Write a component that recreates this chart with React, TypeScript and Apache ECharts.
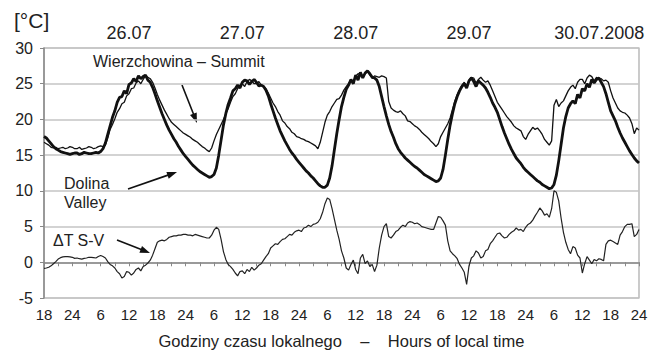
import React, { useEffect, useRef } from "react";
import * as echarts from "echarts";

// Half-hourly readings starting 25.07.2008 18:00 local time (x = index * 0.5 hours elapsed)
const valley = [
  17.6, 17.4, 17.0, 16.6, 16.2, 15.9, 15.7, 15.5, 15.4, 15.3, 15.2, 15.1, 15.2, 15.3, 15.3, 15.1, 15.2, 15.4, 15.3, 15.2,
  15.2, 15.3, 15.4, 15.3, 15.5, 15.9, 16.7, 17.9, 19.1, 20.3, 21.2, 22.4, 23.1, 23.2, 24.0, 23.6, 24.9, 25.1, 25.7, 25.3,
  26.1, 25.7, 26.0, 26.2, 25.5, 25.2, 24.5, 23.6, 22.6, 21.7, 20.8, 20.0, 19.2, 18.5, 17.9, 17.3, 16.8, 16.2, 15.7, 15.2,
  14.8, 14.4, 14.0, 13.6, 13.3, 13.0, 12.7, 12.5, 12.3, 12.1, 11.9, 12.0, 12.3, 13.2, 15.0, 17.1, 19.2, 20.8, 22.1, 23.0,
  24.0, 24.3, 24.8, 24.4, 25.2, 25.5, 25.4, 24.9, 25.3, 25.6, 25.2, 24.7, 24.8, 24.6, 24.1, 23.3, 22.2, 21.2, 20.2, 19.3,
  18.4, 17.7, 17.0, 16.4, 15.8, 15.3, 14.9, 14.4, 14.0, 13.6, 13.2, 12.8, 12.5, 12.1, 11.8, 11.4, 11.0, 10.7, 10.5, 10.5,
  10.8, 11.8, 13.5, 15.8, 18.0, 20.0, 21.8, 23.1, 24.2, 24.8, 25.6, 25.0, 26.2, 25.5, 26.6, 25.8, 26.5, 26.8, 26.4, 25.9,
  25.8, 25.5, 24.6, 23.2, 21.8, 20.5, 19.3, 18.3, 17.5, 16.6, 15.9, 15.4, 15.0, 14.6, 14.3, 14.0, 13.7, 13.4, 13.2, 12.9,
  12.6, 12.3, 12.1, 11.9, 11.7, 11.5, 11.3, 11.4, 11.8, 13.0, 15.0, 17.2, 19.2, 20.8, 22.2, 23.2, 24.0, 24.6, 25.0, 24.4,
  25.4, 25.8, 25.3, 24.6, 25.4, 25.1, 24.8, 24.4, 23.8, 23.1, 22.3, 21.7, 21.0, 20.0, 19.0, 18.1, 17.3, 16.5, 15.8, 15.2,
  14.6, 14.2, 13.8, 13.3, 12.9, 12.6, 12.3, 12.0, 11.7, 11.4, 11.2, 10.9, 10.7, 10.5, 10.3, 10.4, 10.9, 12.2, 14.2, 16.5,
  18.8, 20.4, 21.6, 22.2, 22.6, 22.2, 23.5, 23.0, 24.3, 24.0, 25.0, 24.5, 25.6, 25.1, 25.6, 25.8, 25.2, 24.6, 23.6, 22.4,
  21.2, 20.5, 19.8, 18.9, 18.1, 17.4, 16.8, 16.2, 15.6, 15.1, 14.6, 14.2, 13.9,
];

const summit = [
  16.8, 16.6, 16.4, 16.1, 16.0, 16.1, 15.9, 16.0, 16.1, 15.9, 16.0, 16.2, 16.1, 15.9, 15.9, 16.1, 15.8, 15.9, 16.0, 16.2,
  16.1, 15.9, 16.0, 16.2, 16.3, 16.2, 16.4, 17.4, 18.6, 19.3, 20.1, 21.0, 21.5, 22.2, 22.4, 23.3, 23.6, 24.3, 24.4, 25.1,
  25.4, 25.0, 25.6, 26.1, 25.9, 25.7, 25.2, 24.4, 23.5, 22.7, 22.0, 21.3, 20.7, 20.1, 19.6, 19.3, 19.0, 18.7, 18.4, 18.1,
  17.9, 17.7, 17.5, 17.2, 17.0, 16.8, 16.5, 16.2, 16.0, 15.7, 15.5, 16.0, 17.0, 17.9, 18.6, 19.3, 20.0, 20.8, 21.5, 22.4,
  23.2, 23.6, 24.3, 24.8, 25.0, 24.6, 25.3, 25.6, 25.4, 25.0, 25.0, 25.3, 24.8, 24.6, 24.3, 23.7, 23.0, 22.3, 21.8, 21.1,
  20.6, 19.8, 19.5, 19.0, 18.7, 18.2, 18.0, 17.6, 17.5, 17.3, 17.2, 17.0, 16.9, 16.7, 16.5, 16.3, 15.9, 16.8, 18.2, 19.6,
  20.6, 21.1, 21.8, 22.3, 22.8, 22.9, 23.4, 24.1, 24.6, 25.0, 25.5, 25.2, 26.0, 26.4, 26.3, 25.9, 26.4, 26.7, 26.2, 25.8,
  26.1, 26.0, 25.9, 26.1, 26.0, 25.8, 22.5, 21.6, 21.3, 21.1, 21.0, 21.2, 20.8, 20.5, 19.8, 19.7, 19.4, 19.1, 18.9, 18.6,
  18.2, 17.9, 17.6, 17.3, 16.9, 16.6, 16.2, 16.6, 17.6, 18.2, 18.8, 19.4, 20.2, 21.4, 22.6, 23.5, 24.2, 24.8, 25.2, 24.7,
  25.5, 25.9, 25.8, 25.1, 25.6, 25.9, 25.5, 25.2, 25.4, 24.8, 24.0, 23.2, 22.4, 21.9, 21.4, 20.9, 20.4, 20.0, 19.6, 19.1,
  18.8, 18.6, 18.4, 17.6, 17.2, 17.9, 18.4, 18.9, 18.6, 18.8, 18.4, 17.9, 17.2, 16.8, 16.4, 17.0, 22.0, 22.8, 21.8, 22.3,
  22.6, 23.3, 24.0, 24.5, 24.8, 24.3, 25.2, 25.6, 25.6, 25.0, 25.8, 26.2, 26.0, 25.4, 25.9, 25.6, 25.7, 25.4, 25.5, 25.2,
  24.0, 23.0, 22.3, 21.6, 21.2, 21.0, 20.9, 20.6, 20.2, 19.4, 18.0, 18.8, 18.5,
];

const deltaSV = [
  -0.85, -0.8, -0.7, -0.5, -0.2, 0.1, 0.45, 0.65, 0.75, 0.8, 0.8, 0.75, 0.7, 0.55, 0.6, 0.5, 0.45, 0.55, 0.6, 0.7,
  0.7, 0.65, 0.6, 0.8, 0.95, 0.8, 0.6, 0.1, -0.3, -0.5, -0.8, -1.3, -1.6, -2.2, -2.0, -1.3, -1.4, -1.8, -1.5, -1.0,
  -0.8, -1.2, -0.6, -0.4, -0.1, 0.3, 1.0, 1.9, 2.8, 3.0, 3.1, 3.0, 3.2, 3.5, 3.6, 3.7, 3.7, 3.8, 3.8, 3.9,
  3.9, 3.8, 3.8, 3.7, 3.9, 3.8, 3.7, 3.6, 3.5, 3.4, 3.4, 3.8, 4.5, 4.9, 4.6, 3.2, 1.5, 0.4, -0.3, -0.6,
  -1.0, -1.5, -1.9, -1.3, -1.2, -1.6, -1.0, -1.3, -0.7, -1.1, -0.8, -0.4, -0.2, 0.3, 0.8, 1.2, 2.0, 2.3, 2.6, 2.5,
  2.9, 3.2, 3.3, 3.6, 3.9, 3.8, 4.2, 4.4, 4.5, 4.3, 4.8, 4.9, 5.2, 5.0, 5.3, 5.4, 5.6, 6.1, 7.0, 8.2,
  9.0, 8.8, 7.5, 6.0, 4.5, 3.2, 1.6, 0.6, -0.8, -1.1, -0.3, 0.3, -1.0, -1.6, 0.6, 1.1, -0.2, 0.2, -0.6, -0.3,
  -1.3, -0.4, 2.0, 3.8, 5.0, 5.4, 3.6, 3.4, 3.8, 4.3, 4.5, 4.9, 5.2, 5.0, 5.5, 5.7, 5.6, 5.4, 5.5, 5.3,
  5.0, 4.9, 4.8, 4.7, 4.6, 4.6, 5.5, 6.4, 6.3, 5.8, 5.2, 3.0, 1.6, 1.2, 0.9, 0.5, -0.3, -0.8, -1.4, -3.1,
  -0.5, 0.6, 0.9, 1.6, 1.3, 0.6, 0.8, 1.6, 1.8, 2.6, 3.0, 3.5, 4.0, 4.1, 3.7, 3.4, 3.5, 3.9, 4.2, 4.4,
  4.8, 4.5, 4.6, 4.3, 4.9, 5.3, 5.5, 5.9, 6.5, 7.0, 7.6, 7.2, 6.6, 6.8, 6.3, 7.5, 10.0, 9.8, 8.6, 6.2,
  4.2, 2.8, 1.8, 1.2, 2.2, 2.0, 1.0, 0.6, -1.5, -0.2, 0.8, 0.3, -0.2, 0.4, 0.2, 0.5, 0.4, 0.2, 2.5, 3.0,
  3.1, 2.9, 2.7, 2.5, 3.8, 4.3, 5.0, 5.3, 5.3, 5.4, 3.6, 3.9, 4.6,
];

const STEP_HOURS = 0.5;
const START_HOUR = 18;
const TOTAL_HOURS = 126;
const dayLabels = ["26.07", "27.07", "28.07", "29.07", "30.07.2008"];
const dayLabelHours = [18, 42, 66, 90, 114];

const FONT = "'Liberation Sans', Arial, sans-serif";

function arrow(x1: number, y1: number, x2: number, y2: number) {
  const dx = x2 - x1;
  const dy = y2 - y1;
  const L = Math.hypot(dx, dy);
  const ux = dx / L;
  const uy = dy / L;
  const headLen = 10;
  const headW = 3.6;
  const bx = x2 - ux * headLen;
  const by = y2 - uy * headLen;
  const px = -uy;
  const py = ux;
  return [
    { type: "line", shape: { x1, y1, x2: bx + ux * 2, y2: by + uy * 2 }, style: { stroke: "#111", lineWidth: 1.6 } },
    {
      type: "polygon",
      shape: { points: [[x2, y2], [bx + px * headW, by + py * headW], [bx - px * headW, by - py * headW]] },
      style: { fill: "#111" },
    },
  ];
}

export default function App() {
  const ref = useRef<HTMLDivElement>(null);
  useEffect(() => {
    if (!ref.current) return;
    const chart = echarts.init(ref.current, undefined, { renderer: "svg" });
    const toPairs = (arr: number[]) => arr.map((v, i) => [i * STEP_HOURS, v]);
    const sp = "\u00A0\u00A0\u00A0\u00A0";
    chart.setOption({
      animation: false,
      backgroundColor: "#fff",
      textStyle: { fontFamily: FONT },
      grid: {
        left: 44,
        right: 14,
        top: 48,
        bottom: 51,
        show: true,
        borderColor: "#a8a8a8",
        borderWidth: 1.2,
      },
      xAxis: [
        {
          type: "value",
          min: 0,
          max: TOTAL_HOURS,
          interval: 3,
          position: "bottom",
          axisLine: { show: true, lineStyle: { color: "#888", width: 1.5 } },
          axisTick: { show: true, length: 4, inside: false, lineStyle: { color: "#888", width: 1 } },
          splitLine: { show: false },
          axisLabel: {
            margin: 9,
            fontSize: 15,
            color: "#222",
            fontFamily: FONT,
            formatter: (v: number) => {
              if (v % 6 !== 0) return "";
              const h = (START_HOUR + v) % 24;
              return String(h === 0 ? 24 : h);
            },
          },
          name: `Godziny czasu lokalnego${sp}–${sp}Hours of local time`,
          nameLocation: "middle",
          nameGap: 34,
          nameTextStyle: { fontSize: 16.5, color: "#222", fontFamily: FONT },
        },
        {
          type: "value",
          min: 0,
          max: TOTAL_HOURS,
          position: "top",
          axisLine: { show: false },
          axisTick: { show: false },
          splitLine: { show: false },
          axisLabel: {
            show: true,
            margin: 6,
            fontSize: 18,
            color: "#222",
            fontFamily: FONT,
            customValues: dayLabelHours,
            formatter: (v: number) => {
              const idx = dayLabelHours.indexOf(Math.round(v));
              if (idx < 0) return "";
              const t = dayLabels[idx];
              return idx === dayLabels.length - 1 ? `{last|${t}}` : t;
            },
            rich: {
              last: { fontSize: 18, color: "#222", fontFamily: FONT, padding: [0, 0, 0, 34] },
            },
          },
        },
      ],
      yAxis: {
        type: "value",
        min: -5,
        max: 30,
        interval: 5,
        axisLine: { show: true, lineStyle: { color: "#888", width: 1.5 } },
        axisTick: { show: true, length: 4, lineStyle: { color: "#888" } },
        splitLine: { show: true, lineStyle: { color: "#c4c4c4", width: 1.5 } },
        axisLabel: { margin: 11, fontSize: 16, color: "#222", fontFamily: FONT },
      },
      graphic: [
        { type: "text", left: 14, top: 10, style: { text: "[°C]", fontSize: 21, fill: "#222", fontFamily: FONT } },
        {
          type: "text",
          left: 93,
          top: 53,
          style: { text: "Wierzchowina – Summit", fontSize: 16, fill: "#222", fontFamily: FONT },
        },
        {
          type: "text",
          left: 64,
          top: 174,
          style: { text: "Dolina\nValley", fontSize: 16, lineHeight: 19, fill: "#222", fontFamily: FONT },
        },
        { type: "text", left: 53, top: 232, style: { text: "ΔT S-V", fontSize: 16, fill: "#222", fontFamily: FONT } },
        ...arrow(182, 85, 197, 123),
        ...arrow(128, 189, 177, 172),
        ...arrow(117, 240, 150, 253),
      ],
      series: [
        {
          name: "Dolina – Valley",
          type: "line",
          data: toPairs(valley),
          showSymbol: false,
          symbol: "none",
          lineStyle: { color: "#111", width: 2.8 },
          z: 3,
        },
        {
          name: "Wierzchowina – Summit",
          type: "line",
          data: toPairs(summit),
          showSymbol: false,
          symbol: "none",
          lineStyle: { color: "#111", width: 1.3 },
          z: 4,
        },
        {
          name: "ΔT S-V",
          type: "line",
          data: toPairs(deltaSV),
          showSymbol: false,
          symbol: "none",
          lineStyle: { color: "#222", width: 1.2 },
          z: 4,
        },
      ],
    });
    return () => chart.dispose();
  }, []);
  return (
    <div
      ref={ref}
      style={{ position: "fixed", left: 0, top: 0, width: 653, height: 354, background: "#fff" }}
    />
  );
}
